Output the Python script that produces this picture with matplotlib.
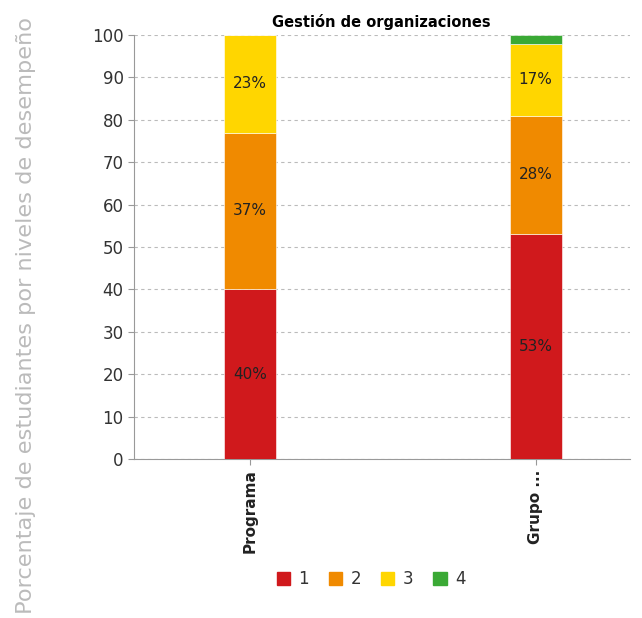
import matplotlib.pyplot as plt
from matplotlib.patches import Patch

# datos
grupos = ["Programa", "Grupo ..."]
niveles = ["1", "2", "3", "4"]
nivel_1 = [40, 53]
nivel_2 = [37, 28]
nivel_3 = [23, 17]
nivel_4 = [0, 2]
colores = ["#d0191c", "#f08a00", "#ffd600", "#3aa935"]

fig = plt.figure(figsize=(6.42, 6.18), dpi=100)
ax = fig.add_axes([0.2087, 0.2573, 0.772, 0.686])

x = [0, 1]
base = [0, 0]
for serie, color in zip([nivel_1, nivel_2, nivel_3, nivel_4], colores):
    ax.bar(x, serie, bottom=base, width=0.182, color=color, edgecolor="white", linewidth=0.4, zorder=3)
    for i in range(len(x)):
        if serie[i] >= 5:
            ax.text(x[i], base[i] + serie[i] / 2, "%d%%" % serie[i], ha="center", va="center",
                    fontsize=11, color="#222222", zorder=4)
    base = [b + s for b, s in zip(base, serie)]

ax.set_xlim(-0.4056, 1.3287)
ax.set_ylim(0, 100)
ax.set_yticks(range(0, 101, 10))
ax.yaxis.grid(True, linestyle=(0, (3, 3)), color="#bbbbbb", linewidth=0.8, zorder=0)
ax.set_xticks(x)
ax.set_xticklabels(grupos, rotation=90, fontweight="bold", fontsize=11, color="#222222")
ax.tick_params(axis="y", labelsize=12, colors="#333333", length=4, color="#999999")
ax.tick_params(axis="x", length=4, color="#999999")
for lado in ["top", "right"]:
    ax.spines[lado].set_visible(False)
ax.spines["left"].set_color("#999999")
ax.spines["bottom"].set_color("#999999")

ax.set_title("Gestión de organizaciones", fontsize=10.5, fontweight="bold", pad=6)
fig.text(0.04, 0.49, "Porcentaje de estudiantes por niveles de desempeño", rotation=90,
         ha="center", va="center", fontsize=16.2, color="#bbbbbb")

manejadores = [Patch(color=c, label=n) for c, n in zip(colores, niveles)]
fig.legend(handles=manejadores, loc="center", bbox_to_anchor=(0.578, 0.063), ncol=4, frameon=False,
           handlelength=0.8, handleheight=0.8, handletextpad=0.5, columnspacing=1.2, fontsize=12,
           labelcolor="#333333")

fig.savefig("out.png", dpi=100)
